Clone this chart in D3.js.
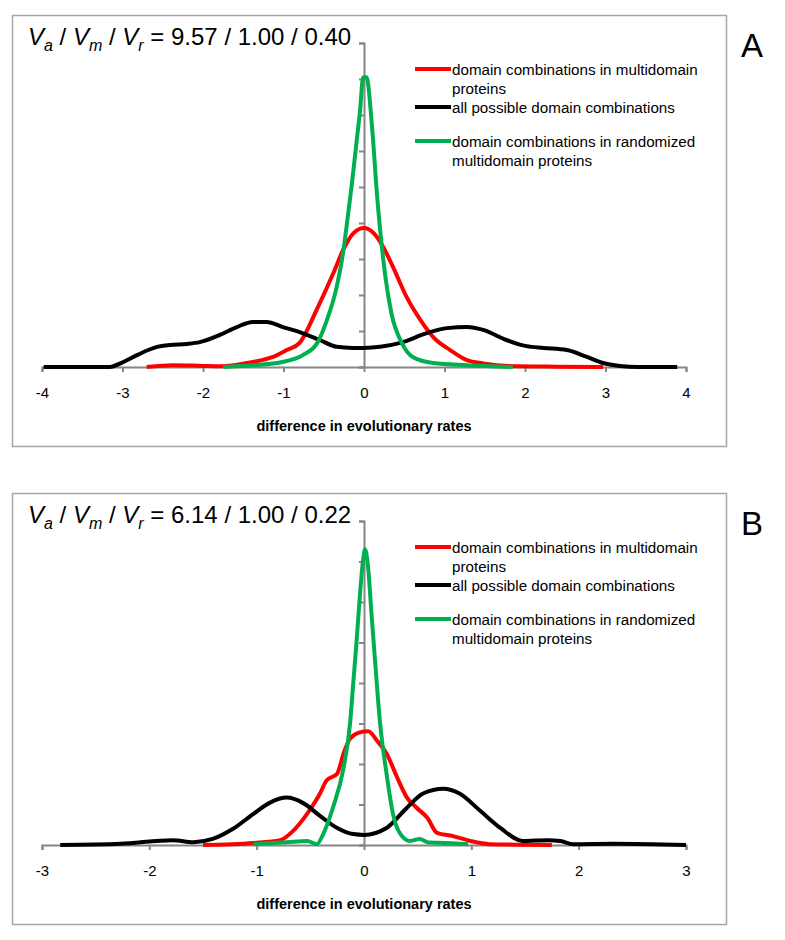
<!DOCTYPE html>
<html>
<head>
<meta charset="utf-8">
<script src="https://cdn.jsdelivr.net/npm/d3@7"></script>
<style>
  body { margin: 0; background: #fff; }
  text { font-family: "Liberation Sans", Arial, sans-serif; }
</style>
</head>
<body>
<svg id="chart" width="785" height="940"></svg>
<script>
// panel settings
const panelLetters = ["A", "B"];
const ratioValues = [["9.57", "1.00", "0.40"], ["6.14", "1.00", "0.22"]];
const xDomains = [[-4, 4], [-3, 3]];
const xTickValues = [[-4, -3, -2, -1, 0, 1, 2, 3, 4], [-3, -2, -1, 0, 1, 2, 3]];
const yTickCounts = [9, 8];
const axisTitle = "difference in evolutionary rates";
const legendLabels = [
    ["domain combinations in multidomain", "proteins"],
    ["all possible domain combinations"],
    ["domain combinations in randomized", "multidomain proteins"]
];
const seriesColors = ["#ff0000", "#000000", "#00b050"];

// panel A: [difference, frequency]
const multiA = [[-2.7, 0], [-2.37, 0.05], [-2.0, 0.03], [-1.79, 0.02], [-1.38, 0.14], [-1.13, 0.28],
    [-0.96, 0.47], [-0.8, 0.67], [-0.59, 1.58], [-0.38, 2.61], [-0.26, 3.25], [-0.13, 3.72], [0, 3.86],
    [0.12, 3.72], [0.24, 3.33], [0.36, 2.78], [0.53, 1.94], [0.7, 1.31], [0.86, 0.83], [1.07, 0.47],
    [1.28, 0.19], [1.48, 0.1], [1.8, 0.03], [2.4, 0.01], [2.97, 0]];
const allA = [[-3.98, 0], [-3.16, 0], [-2.99, 0.14], [-2.82, 0.33], [-2.57, 0.56], [-2.41, 0.61],
    [-2.2, 0.64], [-2.04, 0.69], [-1.79, 0.89], [-1.58, 1.11], [-1.38, 1.25], [-1.21, 1.25], [-1.01, 1.11],
    [-0.8, 0.97], [-0.55, 0.75], [-0.34, 0.56], [-0.14, 0.53], [0, 0.53], [0.2, 0.56], [0.45, 0.67],
    [0.78, 0.94], [1.03, 1.08], [1.28, 1.11], [1.48, 1.03], [1.77, 0.75], [2.02, 0.58], [2.23, 0.53],
    [2.52, 0.47], [2.77, 0.28], [2.97, 0.11], [3.18, 0.03], [3.4, 0], [3.89, 0]];
const randA = [[-1.75, 0], [-1.38, 0.05], [-1.01, 0.14], [-0.76, 0.33], [-0.58, 0.67], [-0.46, 1.31],
    [-0.34, 2.22], [-0.26, 3.17], [-0.2, 4.2], [-0.15, 5.1], [-0.09, 6.3], [-0.05, 7.1], [-0.01, 8.05],
    [0.03, 8.05], [0.1, 6.67], [0.16, 4.83], [0.24, 2.97], [0.34, 1.5], [0.47, 0.67], [0.61, 0.27],
    [0.86, 0.11], [1.28, 0.05], [1.85, 0]];

// panel B
const multiB = [[-1.5, 0], [-1.03, 0.05], [-0.78, 0.12], [-0.66, 0.35], [-0.53, 0.77], [-0.41, 1.27],
    [-0.35, 1.59], [-0.25, 1.76], [-0.19, 2.26], [-0.13, 2.63], [-0.04, 2.78], [0.04, 2.81], [0.12, 2.58],
    [0.21, 2.26], [0.31, 1.66], [0.4, 1.17], [0.49, 0.92], [0.59, 0.67], [0.68, 0.3], [0.83, 0.22],
    [0.99, 0.1], [1.17, 0.02], [1.75, 0]];
const allB = [[-2.83, 0], [-2.27, 0.03], [-1.78, 0.12], [-1.59, 0.07], [-1.41, 0.15], [-1.22, 0.4],
    [-1.03, 0.77], [-0.88, 1.04], [-0.72, 1.17], [-0.57, 1.04], [-0.41, 0.72], [-0.25, 0.42], [-0.1, 0.27],
    [0, 0.25], [0.21, 0.42], [0.4, 0.92], [0.55, 1.27], [0.74, 1.39], [0.89, 1.27], [1.08, 0.85],
    [1.27, 0.42], [1.48, 0.1], [1.71, 0.12], [1.83, 0.1], [1.95, 0.02], [2.32, 0.03], [3.0, 0]];
const randB = [[-1.03, 0.02], [-0.72, 0.07], [-0.53, 0.1], [-0.44, 0.02], [-0.38, 0.27], [-0.29, 0.92],
    [-0.19, 1.91], [-0.13, 3.0], [-0.1, 4.0], [-0.07, 5.0], [-0.04, 6.1], [-0.01, 7.0], [0.01, 7.3],
    [0.04, 6.8], [0.07, 5.7], [0.1, 4.65], [0.15, 3.0], [0.21, 1.76], [0.27, 0.77], [0.34, 0.27],
    [0.43, 0.1], [0.52, 0.15], [0.59, 0.07], [0.77, 0.05], [0.97, 0.02]];

const panelSeries = [[multiA, allA, randA], [multiB, allB, randB]];

const svg = d3.select("#chart");
const panelOffsets = [0, 478];
const plot = { left: 42, right: 686, top: 43, bottom: 367 };
const axisGray = "#868686";

function drawPanel(i)
{
    const g = svg.append("g").attr("transform", `translate(0, ${panelOffsets[i]})`);

    g.append("rect")
        .attr("x", 12.5).attr("y", 15.5)
        .attr("width", 714).attr("height", 431)
        .attr("fill", "none")
        .attr("stroke", "#a6a6a6")
        .attr("stroke-width", 1.5);

    const x = d3.scaleLinear().domain(xDomains[i]).range([plot.left, plot.right]);
    const y = d3.scaleLinear().domain([0, yTickCounts[i]]).range([plot.bottom, plot.top]);

    // x axis
    const xAxis = g.append("g")
        .attr("transform", `translate(0, ${plot.bottom})`)
        .call(d3.axisBottom(x).tickValues(xTickValues[i]).tickSize(5).tickSizeOuter(5).tickPadding(15)
            .tickFormat(d => d < 0 ? "-" + Math.abs(d) : d));
    xAxis.selectAll("path, line").attr("stroke", axisGray).attr("stroke-width", 2);
    xAxis.selectAll("text").attr("font-size", 15).attr("fill", "#000")
        .style("font-family", "'Liberation Sans', Arial, sans-serif");

    // y axis, no labels
    const yAxis = g.append("g")
        .attr("transform", `translate(${x(0)}, 0)`)
        .call(d3.axisLeft(y).tickValues(d3.range(0, yTickCounts[i] + 1)).tickSize(5).tickSizeOuter(5)
            .tickFormat(""));
    yAxis.selectAll("path, line").attr("stroke", axisGray).attr("stroke-width", 2);

    g.append("text")
        .attr("x", x(0)).attr("y", 431)
        .attr("text-anchor", "middle")
        .attr("font-size", 14.5).attr("font-weight", "bold")
        .text(axisTitle);

    // series
    const line = d3.line()
        .x(d => x(d[0]))
        .y(d => y(d[1]))
        .curve(d3.curveMonotoneX);
    panelSeries[i].forEach((data, k) => {
        g.append("path")
            .attr("d", line(data))
            .attr("fill", "none")
            .attr("stroke", seriesColors[k])
            .attr("stroke-width", 4)
            .attr("stroke-linejoin", "round");
    });

    // ratio title
    const r = ratioValues[i];
    const title = g.append("text").attr("x", 28).attr("y", 45).attr("font-size", 24);
    const parts = [["V", "a"], ["V", "m"], ["V", "r"]];
    parts.forEach((p, k) => {
        title.append("tspan").attr("font-style", "italic").text(p[0]);
        title.append("tspan").attr("font-style", "italic").attr("font-size", 16).attr("dy", 6).text(p[1]);
        title.append("tspan").attr("dy", -6).text(k < 2 ? " / " : " = ");
    });
    title.append("tspan").text(`${r[0]} / ${r[1]} / ${r[2]}`);

    // legend
    const legendY = [69, 107, 141];
    legendLabels.forEach((lines, k) => {
        g.append("line")
            .attr("x1", 415).attr("x2", 451)
            .attr("y1", legendY[k]).attr("y2", legendY[k])
            .attr("stroke", seriesColors[k]).attr("stroke-width", 4);
        lines.forEach((t, j) => {
            g.append("text")
                .attr("x", 452).attr("y", legendY[k] + 6 + j * 19)
                .attr("font-size", 15.2)
                .text(t);
        });
    });

    g.append("text")
        .attr("x", 741).attr("y", 57)
        .attr("font-size", 33)
        .text(panelLetters[i]);
}

drawPanel(0);
drawPanel(1);
</script>
</body>
</html>
